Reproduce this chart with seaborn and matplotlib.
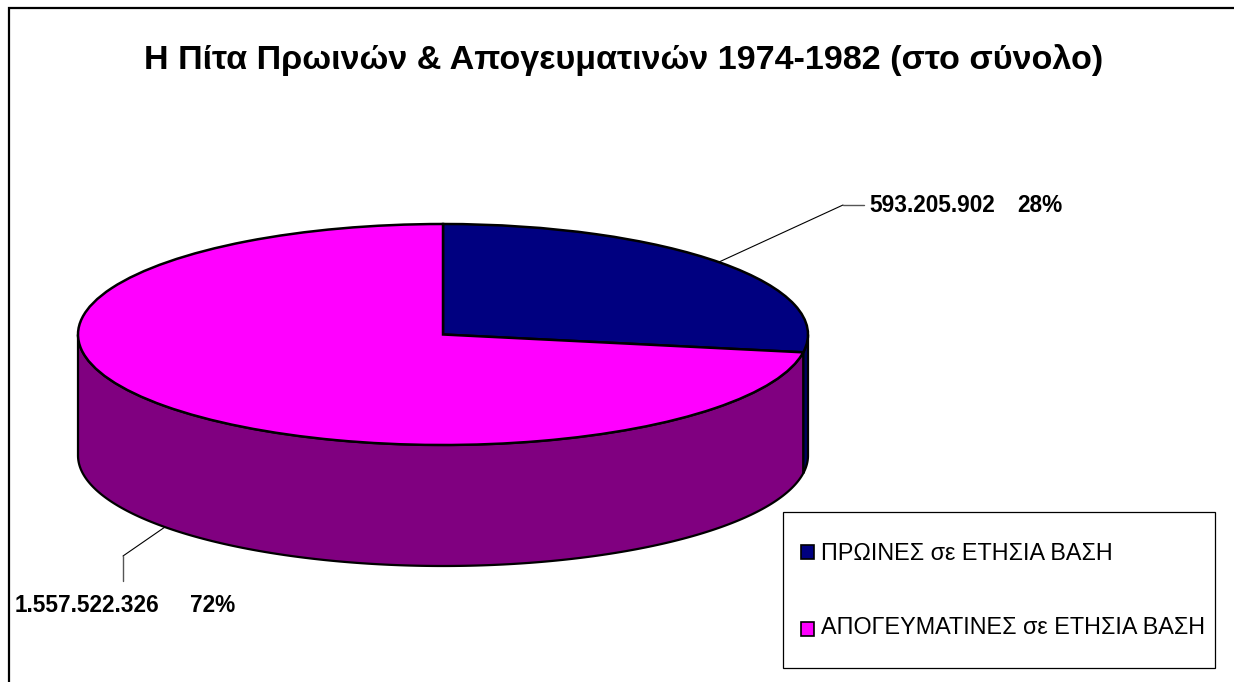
import matplotlib
matplotlib.use('Agg')
import matplotlib.pyplot as plt
import numpy as np
import seaborn as sns
from matplotlib.patches import Rectangle

title = 'Η Πίτα Πρωινών & Απογευματινών 1974-1982 (στο σύνολο)'
categories = ['ΠΡΩΙΝΕΣ σε ΕΤΗΣΙΑ ΒΑΣΗ', 'ΑΠΟΓΕΥΜΑΤΙΝΕΣ σε ΕΤΗΣΙΑ ΒΑΣΗ']
values = [593205902, 1557522326]
value_labels = ['593.205.902', '1.557.522.326']
percent_labels = ['28%', '72%']
top_colors = ['#000080', '#ff00ff']
side_colors = ['#000060', '#800080']

W, H = 1234, 682
CX, CY, RX, RY = 443, 334.5, 365, 110.5
DEPTH = 121

sns.set_theme(style='white')
plt.rcParams['font.family'] = ['Liberation Sans', 'DejaVu Sans']

fig = plt.figure(figsize=(W / 100, H / 100), dpi=100)
bg = fig.add_axes([0, 0, 1, 1])
bg.set_xlim(0, W)
bg.set_ylim(H, 0)
bg.axis('off')

# the frame only shows on the top and left
bg.plot([9, 9, W], [H, 8, 8], color='black', lw=1.6, solid_joinstyle='miter')

# pie axes: unit circle squashed into the ellipse
ax = fig.add_axes([(CX - RX) / W, 1 - (CY + RY) / H, 2 * RX / W, 2 * RY / H])
ax.patch.set_alpha(0)
wedges, _ = ax.pie(values, colors=top_colors, startangle=90, counterclock=False,
                   radius=1, wedgeprops={'edgecolor': 'black', 'linewidth': 1.8, 'zorder': 3})
ax.set_aspect('auto')
ax.set_xlim(-1, 1)
ax.set_ylim(-1, 1)
ax.axis('off')

# side wall, only the part of each wedge on the front half
depth = DEPTH / RY
for wedge, col in zip(wedges, side_colors):
  lo, hi = wedge.theta1 % 360, wedge.theta2 % 360
  if hi <= lo:
    hi += 360
  a = np.radians(np.linspace(max(lo, 180), min(hi, 360), 200))
  xs = np.cos(a)
  ys = np.sin(a)
  ax.fill(np.r_[xs, xs[::-1]], np.r_[ys, ys[::-1] - depth], facecolor=col,
          edgecolor='black', linewidth=1.6, zorder=2, clip_on=False)

# leader lines and labels
bg.plot([719, 843], [262, 205], color='black', lw=0.8)
bg.plot([843, 864], [205, 205], color='#555555', lw=1)
bg.plot([165, 123], [527, 556], color='black', lw=0.8)
bg.plot([123, 123], [556, 581], color='#555555', lw=1)
lab = dict(fontsize=16.3, fontweight='bold', color='black', va='center', ha='left')
bg.text(869, 206, value_labels[0], **lab)
bg.text(1017, 206, percent_labels[0], **lab)
bg.text(15, 606, value_labels[1], **lab)
bg.text(190, 606, percent_labels[1], **lab)

bg.text(624, 60, title, fontsize=24.6, fontweight='bold', color='black', ha='center', va='center')

# legend box
bg.add_patch(Rectangle((783, 512), 432, 156, facecolor='white', edgecolor='black', lw=0.9, zorder=4))
for i, (name, col) in enumerate(zip(categories, top_colors)):
  y = 552 + i * 77
  bg.add_patch(Rectangle((801, y - 7), 13, 14, facecolor=col, edgecolor='black', lw=1.2, zorder=5))
  bg.text(821, 553 + i * 74, name, fontsize=16.8, color='black', ha='left', va='center', zorder=5)

fig.savefig('out.png', dpi=100)
